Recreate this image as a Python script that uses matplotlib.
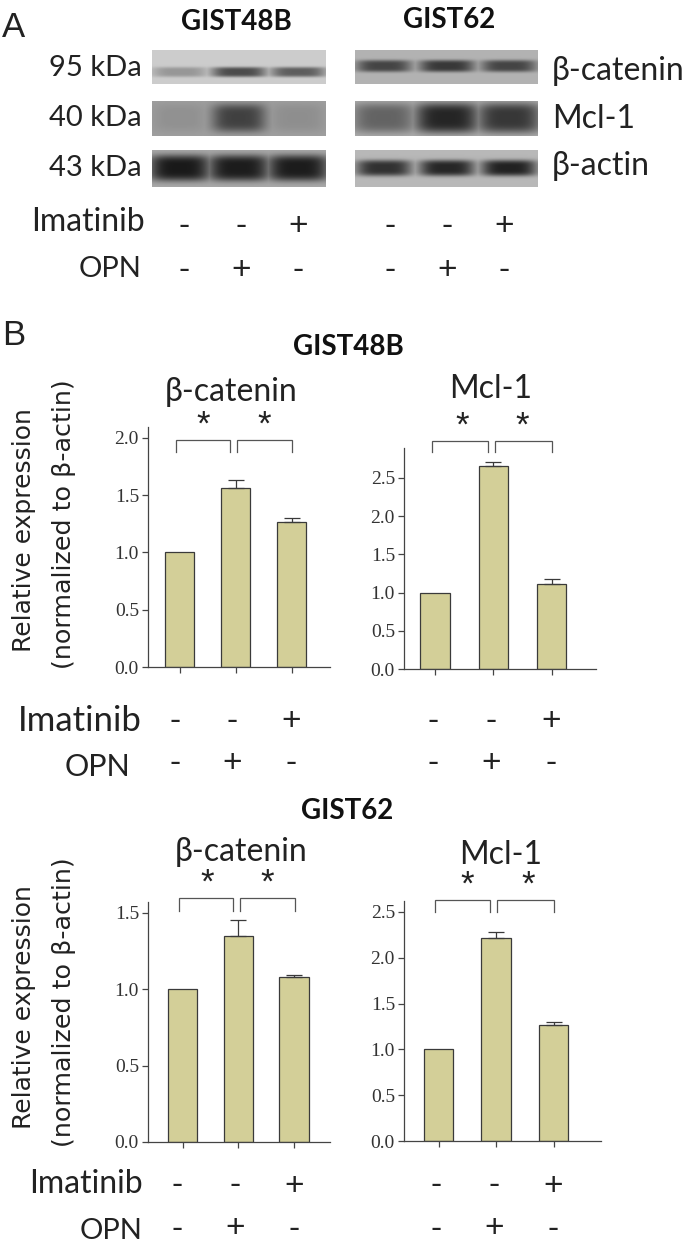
import numpy as np
import matplotlib
matplotlib.use('Agg')
import matplotlib.pyplot as plt

W,H=685,1249
UI='Lato'
SERIF='Liberation Serif'
BAR='#D3CF98'
EDGE='#3a3a3a'

# western blot, band darkness per lane (0 = nothing, 1 = black)
blotRows=['95 kDa','40 kDa','43 kDa']
proteins=['β-catenin','Mcl-1','β-actin']
gist48b=[[0.30,0.72,0.62],[0.10,0.70,0.12],[1.0,0.98,0.98]]
gist62=[[0.72,0.80,0.72],[0.50,0.92,0.80],[0.85,0.92,0.95]]
bg48b=[0.80,0.62,0.66]
bg62=[0.70,0.68,0.72]

imatinib=['-','-','+']
opn=['-','+','-']

# relative expression
xCats=[0,1,2]
b1Vals=[1.0,1.56,1.27]
b1Err=[0,0.07,0.03]
b2Vals=[1.0,2.66,1.11]
b2Err=[0,0.05,0.07]
c1Vals=[1.0,1.35,1.08]
c1Err=[0,0.105,0.015]
c2Vals=[1.0,2.22,1.27]
c2Err=[0,0.06,0.03]
ticksB1=[0,0.5,1.0,1.5,2.0]
ticksB2=[0,0.5,1.0,1.5,2.0,2.5]
ticksC1=[0,0.5,1.0,1.5]
ticksC2=[0,0.5,1.0,1.5,2.0,2.5]

fig=plt.figure(figsize=(W/100,H/100),dpi=100,facecolor='white')
ov=fig.add_axes([0,0,1,1])
ov.set_xlim(0,W)
ov.set_ylim(H,0)
ov.axis('off')

def txt(x,y,s,size,family=UI,ha='center',weight='normal',rot=0,color='#222222'):
    ov.text(x,y,s,fontsize=size,family=family,ha=ha,va='center',weight=weight,rotation=rot,color=color)

def blot(x0,x1,y0,y1,lanes,strengths,bg,halfW,halfH,yc):
    # one blot strip, bands are soft boxes on a grey background
    xs=np.arange(x0,x1)+0.5
    ys=np.arange(y0,y1)+0.5
    X,Y=np.meshgrid(xs,ys)
    dark=np.zeros(X.shape)
    for lane,s in zip(lanes,strengths):
        band=np.exp(-((X-lane)/halfW)**4)*np.exp(-((Y-yc)/halfH)**4)
        dark=np.maximum(dark,s*band)
    img=bg*(1-dark)+0.1*dark
    ov.imshow(img,extent=(x0,x1,y1,y0),cmap='gray',vmin=0,vmax=1,aspect='auto',interpolation='bilinear',zorder=1)

lanes48=[180,239,298]
lanes62=[384,447,509]
rowY=[(50,84),(101,136),(150,187)]
centers48=[72,118,168]
centers62=[66,118,168]
halfH48=[5,14,13]
halfH62=[6,15,8]
halfW48=[28,27,31]
halfW62=[28,32,28]
for r in range(3):
    y0,y1=rowY[r]
    blot(152,326,y0,y1,lanes48,gist48b[r],bg48b[r],halfW48[r],halfH48[r],centers48[r])
    blot(355,538,y0,y1,lanes62,gist62[r],bg62[r],halfW62[r],halfH62[r],centers62[r])
    txt(142,[68,118,168][r],blotRows[r],21,ha='right')
    txt(552,[71,119,166][r],proteins[r],23,ha='left')
ov.set_xlim(0,W)
ov.set_ylim(H,0)

txt(14,27,'A',25,family='Liberation Sans')
txt(14,335,'B',25,family='Liberation Sans')
txt(236,22,'GIST48B',20,weight='bold',color='#111111')
txt(449,20,'GIST62',20,weight='bold',color='#111111')
txt(348,347,'GIST48B',20,weight='bold',color='#111111')
txt(347,811,'GIST62',20,weight='bold',color='#111111')

def signRows(xs,yIm,yOp):
    for x,a,b in zip(xs,imatinib,opn):
        txt(x,yIm,a,24,family='Liberation Sans')
        txt(x,yOp,b,24,family='Liberation Sans')

txt(145,222,'Imatinib',23,ha='right')
txt(142,269,'OPN',21,ha='right')
signRows([184,241,298],226,270)
signRows([390,447,504],226,270)
txt(142,721,'Imatinib',25,ha='right')
txt(130,767,'OPN',22,ha='right')
signRows([175,232,291],721,763)
signRows([433,491,551],721,763)
txt(143,1184,'Imatinib',23,ha='right')
txt(143,1231,'OPN',21,ha='right')
signRows([177,235,294],1186,1229)
signRows([436,494,553],1186,1229)

def panel(vals,errs,ticks,left,right,yTop,yBase,ymax,centers,title,titleXY,tsize,bracketY,stars):
    ax=fig.add_axes([left/W,1-yBase/H,(right-left)/W,(yBase-yTop)/H])
    gap=(centers[2]-centers[0])/2
    ax.set_xlim((left-centers[0])/gap,(right-centers[0])/gap)
    ax.set_ylim(0,ymax)
    ax.patch.set_alpha(0)
    ax.bar(xCats,vals,width=29.5/gap,color=BAR,edgecolor=EDGE,linewidth=0.9)
    for x,v,e in zip(xCats,vals,errs):
        if e>0:
            ax.errorbar(x,v,yerr=[[0],[e]],color=EDGE,capsize=6,elinewidth=0.9,capthick=0.9)
    for s in ['top','right']:
        ax.spines[s].set_visible(False)
    for s in ['left','bottom']:
        ax.spines[s].set_color('#444444')
        ax.spines[s].set_linewidth(0.9)
    ax.set_xticks(xCats)
    ax.set_xticklabels([])
    ax.set_yticks(ticks)
    ax.set_yticklabels(['%.1f'%t for t in ticks],family=SERIF,fontsize=14,color='#333333')
    ax.tick_params(axis='both',length=4.5,width=0.9,color='#444444',pad=2)
    txt(titleXY[0],titleXY[1],title,tsize)
    # significance brackets, in picture pixels
    top,bot=bracketY
    for a,b in [(centers[0]-3,centers[1]-5),(centers[1]+2,centers[2]+1)]:
        ov.plot([a,a,b,b],[bot,top,top,bot],color='#555555',lw=0.9,solid_joinstyle='miter')
    for x in stars:
        txt(x,top-15,'*',25,family='Liberation Sans',color='#222222')

panel(b1Vals,b1Err,ticksB1,148,330,427,667,2.096,[179.5,235.5,291.5],'β-catenin',(231,392),23,(440,452),(203,264))
panel(b2Vals,b2Err,ticksB2,404,596,448,669,2.89,[435,493,551.5],'Mcl-1',(491,389),23,(441,452),(462,522))
panel(c1Vals,c1Err,ticksC1,148,330,902,1142,1.572,[182.5,238,294],'β-catenin',(241,852),23,(898,911),(207,267))
panel(c2Vals,c2Err,ticksC2,404,601,901,1141,2.62,[438.5,495.5,553.5],'Mcl-1',(501,855),23,(900,912),(467,528))

for y1,y2 in [(530,524),(1007,1002)]:
    txt(24,y1,'Relative expression',18,family='DejaVu Sans',rot=90)
    txt(64,y2,'(normalized to β-actin)',18.3,family='DejaVu Sans',rot=90)

ov.set_xlim(0,W)
ov.set_ylim(H,0)
fig.savefig('out.png',dpi=100)
